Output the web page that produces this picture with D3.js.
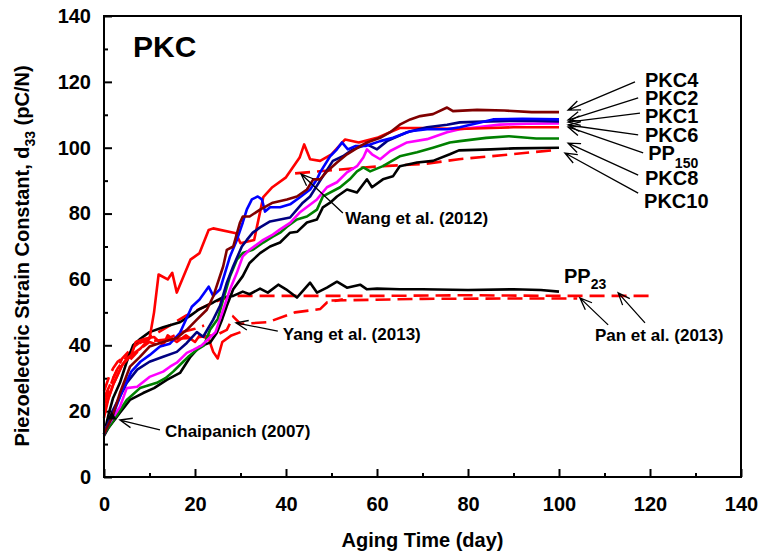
<!DOCTYPE html>
<meta charset="utf-8">
<style>
body { margin: 0; background: #fff; }
text { font-family: "Liberation Sans", Arial, sans-serif; font-weight: bold; fill: #000; }
.curve { fill: none; stroke-width: 2.6px; stroke-linejoin: round; }
.dash { fill: none; stroke: #ff0000; stroke-width: 2.6px; stroke-dasharray: 15,7; }
.arrow { stroke: #000; stroke-width: 1.3px; fill: none; }
</style>
<body>
<svg width="762" height="554"></svg>
<script src="https://cdnjs.cloudflare.com/ajax/libs/d3/7.8.5/d3.min.js"></script>
<script>

// ---- data: [day, d33] ----
var pkc4 = [[0,13],[2,19],[3.5,25.5],[5.7,33.5],[7.9,36.5],[10,39.6],[13,41],[16,42.2],[18.2,44.7],[20.4,47.8],[22.6,50.8],[24,54.8],[26.2,64],[27,69],[28.4,70],[29.9,77.3],[30.5,79.1],[32,79.1],[34.3,81.2],[37.1,83.3],[40.2,84.3],[42.4,85.2],[44.6,87.3],[46,90.4],[47.5,90.4],[49,92.8],[51.2,95.5],[53.4,98],[56.3,100.5],[57.8,101.6],[60.7,103],[62.9,104.7],[65,107],[67.3,108.6],[69.5,109.6],[72.3,110.2],[75.4,112.2],[76.7,111.1],[82,111.5],[88,111.3],[94,110.8],[100,110.8]];
var pkc2 = [[0,13],[2,19],[4,26],[6,32],[8,35],[10,37],[12.3,39.6],[14.5,40.5],[16.7,43.8],[19.3,51.7],[21,53.9],[23,57.8],[24,55],[25.5,57],[27.7,67],[29.2,72],[30.5,77.3],[31.4,81.3],[32.5,84.3],[33.8,85.2],[34.7,84.3],[35.4,80.6],[36.5,81.9],[38.7,81.9],[40.9,82.8],[43,84.9],[45.3,87.3],[46.8,90.4],[47.5,92.5],[49.7,97.4],[51.2,99.5],[52.3,101.6],[53.6,99.5],[55.2,100.5],[57.5,100.5],[60.7,102],[63.5,103],[67.3,105],[71,105.6],[75.4,105.6],[78.2,106.2],[85.5,108.6],[92,108.8],[100,108.6]];
var pkc1 = [[0,13],[2,20.4],[5,28.6],[7.3,32.6],[10,35],[13,36.5],[16,38],[18.2,40.7],[20.4,44],[21.8,42.6],[24,47.8],[25.5,52],[27,59],[28.4,64],[30.3,70],[31.4,72],[32.7,74.2],[34.3,75.8],[36.5,77.6],[38.7,78.2],[40.9,78.8],[43.7,83.3],[45.3,85.2],[47.5,90],[50.3,96],[52.5,97.4],[54.7,99.5],[57.8,101],[60,99.5],[62.2,102],[66.6,104.7],[71,106.2],[75.4,107],[78.2,107.7],[85,108],[92,108.2],[100,108]];
var pkc6 = [[0,14],[1.5,17],[3.5,21.3],[5,27],[7.3,27.4],[10,30.4],[13,32],[14.5,33.5],[16,34.7],[18.2,37.7],[19.6,38.6],[21.5,40],[23,42],[24.5,44],[26.2,50.8],[27.7,57],[29.2,62],[30.5,67],[32,69],[35,72],[37.1,73.6],[38.7,75.2],[40.9,77.2],[43,80.3],[46.8,84.3],[49,88],[51.2,89.5],[53.4,92.5],[55.6,94.4],[57,97],[57.8,99.5],[58.9,98],[60.7,96.5],[62.9,99],[66.6,101.6],[71,102.6],[75.4,104.7],[78.2,105.6],[87,107],[93,107.3],[100,107.4]];
var pp150 = [[0,20],[2,28],[4,34],[6,37],[8,39],[10,42],[11,50],[12,61.5],[14,60],[15,62],[16,56],[19,66],[21,68],[23,75],[24,75.5],[29,74],[30,71],[33,72],[35,85],[37,88],[40,91],[43,97],[44,101],[45.3,96.5],[47.5,96],[50,98],[53,102.5],[56,101.6],[60,103],[65,106],[70,106],[78,105.7],[85,106],[90,106.2],[100,106.2]];
var pkc8 = [[0,13],[2,17],[5,23.4],[7.9,27],[11.6,28.6],[13.5,30],[15.2,32],[17.4,35],[18.5,36.5],[20.4,38.6],[22,40],[23.3,44.7],[25,48],[26.2,53.9],[27.7,61],[29.2,66],[30.5,68],[32.7,69],[35,71.2],[37.1,73],[38.7,74.2],[40.2,76],[42.4,78.2],[44.6,79.1],[46.8,81.2],[48.1,85.2],[51.9,88],[54,90.4],[55.6,92.8],[57,94],[58.5,92.8],[61.3,94.4],[65,97.4],[68.8,98.6],[72.3,100],[76,101.6],[78.2,102],[84,103],[89,103.5],[95,102.8],[100,102.8]];
var pkc10 = [[0,12.5],[1,15],[3.5,19.5],[5.7,23.4],[8.6,25.5],[11,27],[13.8,29.5],[16.7,31.6],[19,36.5],[21,39.6],[23.3,40.8],[24.8,43.8],[26,48],[27,52],[28.4,57],[30.5,61],[32,65],[34.3,68],[36.5,70],[38.7,71.2],[40.9,74.2],[42.5,74.5],[44.6,77.3],[46.8,78.2],[48.1,81.9],[49.7,83.3],[51.2,85.2],[53.4,87.3],[55.6,86.4],[57.8,90.4],[58.9,88],[61.3,90.4],[63.5,91.3],[65,94.4],[68.8,95.5],[72.3,96],[76,98],[78,99.2],[85,99.5],[90,99.8],[100,100]];
var pp23 = [[0,13],[1,19],[2,24],[3.5,28.6],[5,35],[6.4,40],[8,42],[10,44],[13,45.5],[16.7,47],[19,49],[21,51],[24,53],[26,54.5],[28.4,55],[30.5,56.3],[32,55.5],[34.3,57.2],[36,56],[38.3,58.4],[40,57],[42.4,54.5],[45.3,59],[46.8,56],[49,57.5],[51.2,59.3],[53.4,57.5],[56.3,58.4],[57.8,57],[60,57.2],[65,57],[70,57],[80,56.8],[90,57],[96,56.8],[100,56.3]];

// literature data (red)
var litSolid = [[0,18],[1,24],[2,28],[3,31],[4,34],[5,36],[6,37],[7,41],[9,42],[11,42.5],[13,40],[14,43],[16,41],[18,43],[20,41],[21,43],[23,42],[24,38],[25,36],[26,41],[28,43],[30,44]];
var litDash = [[0,26],[1,30],[2,33],[3,35],[5,37],[6,36],[8,39],[10,41],[12,40],[14,42],[17,44],[20,45],[22,46]];
var wang2012 = [[42,92.2],[52,93.4],[61,94.4],[70,95],[78,96.5],[88,97.8],[98.5,99.2]];
var pan2013a = [[0,24],[3,33],[7,40],[12,44],[18,49],[24,53],[28,55],[40,55],[60,55],[80,55.2],[100,55],[120,55]];
var pan2013b = [[50,53.6],[70,54.1],[90,54.2],[104,54.2]];
var yang2013 = [[0,22],[2,30],[4,36],[6,39],[8,41],[12,41.5],[16,42],[20,42.3],[24.8,43.2],[27,44.7],[28.4,48.7],[30,46.5],[36,47],[42,50],[47.5,51],[49,53],[52.5,54]];
var chaipanich2007 = [[1.7,18.3]];

var xTicks = [0,20,40,60,80,100,120,140];
var yTicks = [0,20,40,60,80,100,120,140];

var solidSeries = [
  {name: "PP23",  data: pp23,  color: "#000000"},
  {name: "lit",   data: litSolid, color: "#ff0000"},
  {name: "PKC10", data: pkc10, color: "#000000"},
  {name: "PKC8",  data: pkc8,  color: "#008000"},
  {name: "PKC6",  data: pkc6,  color: "#ff00ff"},
  {name: "PP150", data: pp150, color: "#ff0000"},
  {name: "PKC1",  data: pkc1,  color: "#000080"},
  {name: "PKC2",  data: pkc2,  color: "#0000ff"},
  {name: "PKC4",  data: pkc4,  color: "#800000"}
];
var dashSeries = [litDash, wang2012, pan2013a, pan2013b, yang2013];

// end labels with arrows: label position and arrow tail/head, in data units
var endLabels = [
  {t: "PKC4",  x: 118.9, y: 118.4, tail: [116.7,120.0], head: [102,111.4]},
  {t: "PKC2",  x: 118.9, y: 113.0, tail: [117.4,115.1], head: [102,108.4]},
  {t: "PKC1",  x: 118.9, y: 107.5, tail: [117.8,110.5], head: [102,107.8]},
  {t: "PKC6",  x: 118.9, y: 101.7, tail: [117.4,103.9], head: [102,106.9]},
  {t: "PP",    sub: "150", x: 119.6, y: 96.3, tail: [118.5,98.4], head: [102,106.3]},
  {t: "PKC8",  x: 118.9, y: 88.7,  tail: [117.4,91.7],  head: [102,101.4]},
  {t: "PKC10", x: 118.7, y: 81.7,  tail: [117.4,86.2],  head: [101.3,98.4]}
];
var notes = [
  {t: "Wang et al. (2012)", x: 53, y: 76.8, arrows: [[[52.5,80.2],[43.3,92]]]},
  {t: "Yang et al. (2013)", x: 39.3, y: 41.6, arrows: [[[38.2,44.3],[29,46.8]]]},
  {t: "Pan et al. (2013)", x: 107.9, y: 41.3, arrows: [[[110.8,46.2],[104.6,54.4]], [[118.9,46.8],[113,55.9]]]},
  {t: "Chaipanich (2007)", x: 13.4, y: 12.1, arrows: [[[12.3,14.3],[3.5,17.3]]]}
];

var svg = d3.select("svg"),
    margin = {top: 16, right: 21, bottom: 77, left: 104},
    width = +svg.attr("width") - margin.left - margin.right,
    height = +svg.attr("height") - margin.top - margin.bottom;

var g = svg.append("g").attr("transform", "translate(" + margin.left + "," + margin.top + ")");

var x = d3.scaleLinear().domain([0, 140]).range([0, width]);
var y = d3.scaleLinear().domain([0, 140]).range([height, 0]);

// minor ticks every 10, major every 20, pointing inwards
var minor = d3.range(10, 140, 20);
g.append("g").attr("transform", "translate(0," + height + ")")
    .call(d3.axisBottom(x).tickValues(minor).tickSize(-4).tickFormat(""));
g.append("g")
    .call(d3.axisLeft(y).tickValues(minor).tickSize(-4).tickFormat(""));
var xAxis = g.append("g").attr("transform", "translate(0," + height + ")")
    .call(d3.axisBottom(x).tickValues(xTicks).tickSize(-8).tickPadding(20));
var yAxis = g.append("g")
    .call(d3.axisLeft(y).tickValues(yTicks).tickSize(-8).tickPadding(13));
g.selectAll(".domain").remove();
g.selectAll(".tick line").attr("stroke", "#000").attr("stroke-width", 2);
g.selectAll(".tick text").style("font-size", "20px").style("font-family", "'Liberation Sans', Arial, sans-serif").style("font-weight", "bold");

var line = d3.line().x(function(d) { return x(d[0]); }).y(function(d) { return y(d[1]); });

g.selectAll(".dash")
    .data(dashSeries)
  .enter().append("path")
    .attr("class", "dash")
    .attr("d", line);

g.selectAll(".curve")
    .data(solidSeries)
  .enter().append("path")
    .attr("class", "curve")
    .attr("stroke", function(d) { return d.color; })
    .attr("d", function(d) { return line(d.data); });

// Chaipanich point: filled triangle
g.selectAll(".tri")
    .data(chaipanich2007)
  .enter().append("path")
    .attr("transform", function(d) { return "translate(" + x(d[0]) + "," + y(d[1]) + ")"; })
    .attr("d", d3.symbol().type(d3.symbolTriangle).size(40))
    .attr("fill", "#000");

// open arrow from tail to head
function arrow(tail, head) {
  var x1 = x(tail[0]), y1 = y(tail[1]), x2 = x(head[0]), y2 = y(head[1]);
  var a = Math.atan2(y1 - y2, x1 - x2), L = 13, w = 0.38;
  g.append("path").attr("class", "arrow")
    .attr("d", "M" + x1 + "," + y1 + "L" + x2 + "," + y2 +
      "M" + (x2 + L * Math.cos(a + w)) + "," + (y2 + L * Math.sin(a + w)) +
      "L" + x2 + "," + y2 +
      "L" + (x2 + L * Math.cos(a - w)) + "," + (y2 + L * Math.sin(a - w)));
}

endLabels.forEach(function(d) {
  arrow(d.tail, d.head);
  var t = g.append("text").attr("x", x(d.x)).attr("y", y(d.y)).style("font-size", "20px").text(d.t);
  if (d.sub) t.append("tspan").attr("dy", 8).style("font-size", "14px").text(d.sub);
});

notes.forEach(function(d) {
  d.arrows.forEach(function(a) { arrow(a[0], a[1]); });
  g.append("text").attr("x", x(d.x)).attr("y", y(d.y)).style("font-size", "17px").text(d.t);
});

var pp23Label = g.append("text").attr("x", x(101.1)).attr("y", y(58.9)).style("font-size", "20px").text("PP");
pp23Label.append("tspan").attr("dy", 6).style("font-size", "14px").text("23");

g.append("text").attr("x", x(6.4)).attr("y", y(127.5)).style("font-size", "30px").text("PKC");

// frame
g.append("rect").attr("width", width).attr("height", height)
    .attr("fill", "none").attr("stroke", "#000").attr("stroke-width", 2);

// axis titles
svg.append("text")
    .attr("x", margin.left + width / 2).attr("y", 547)
    .attr("text-anchor", "middle").style("font-size", "20px")
    .text("Aging Time (day)");

var yt = svg.append("text")
    .attr("transform", "translate(29," + 256 + ") rotate(-90)")
    .attr("text-anchor", "middle").style("font-size", "20px");
yt.append("tspan").text("Piezoelectric Strain Constant, d");
yt.append("tspan").attr("dy", 6).style("font-size", "14px").text("33");
yt.append("tspan").attr("dy", -6).text(" (pC/N)");

</script>
</body>
